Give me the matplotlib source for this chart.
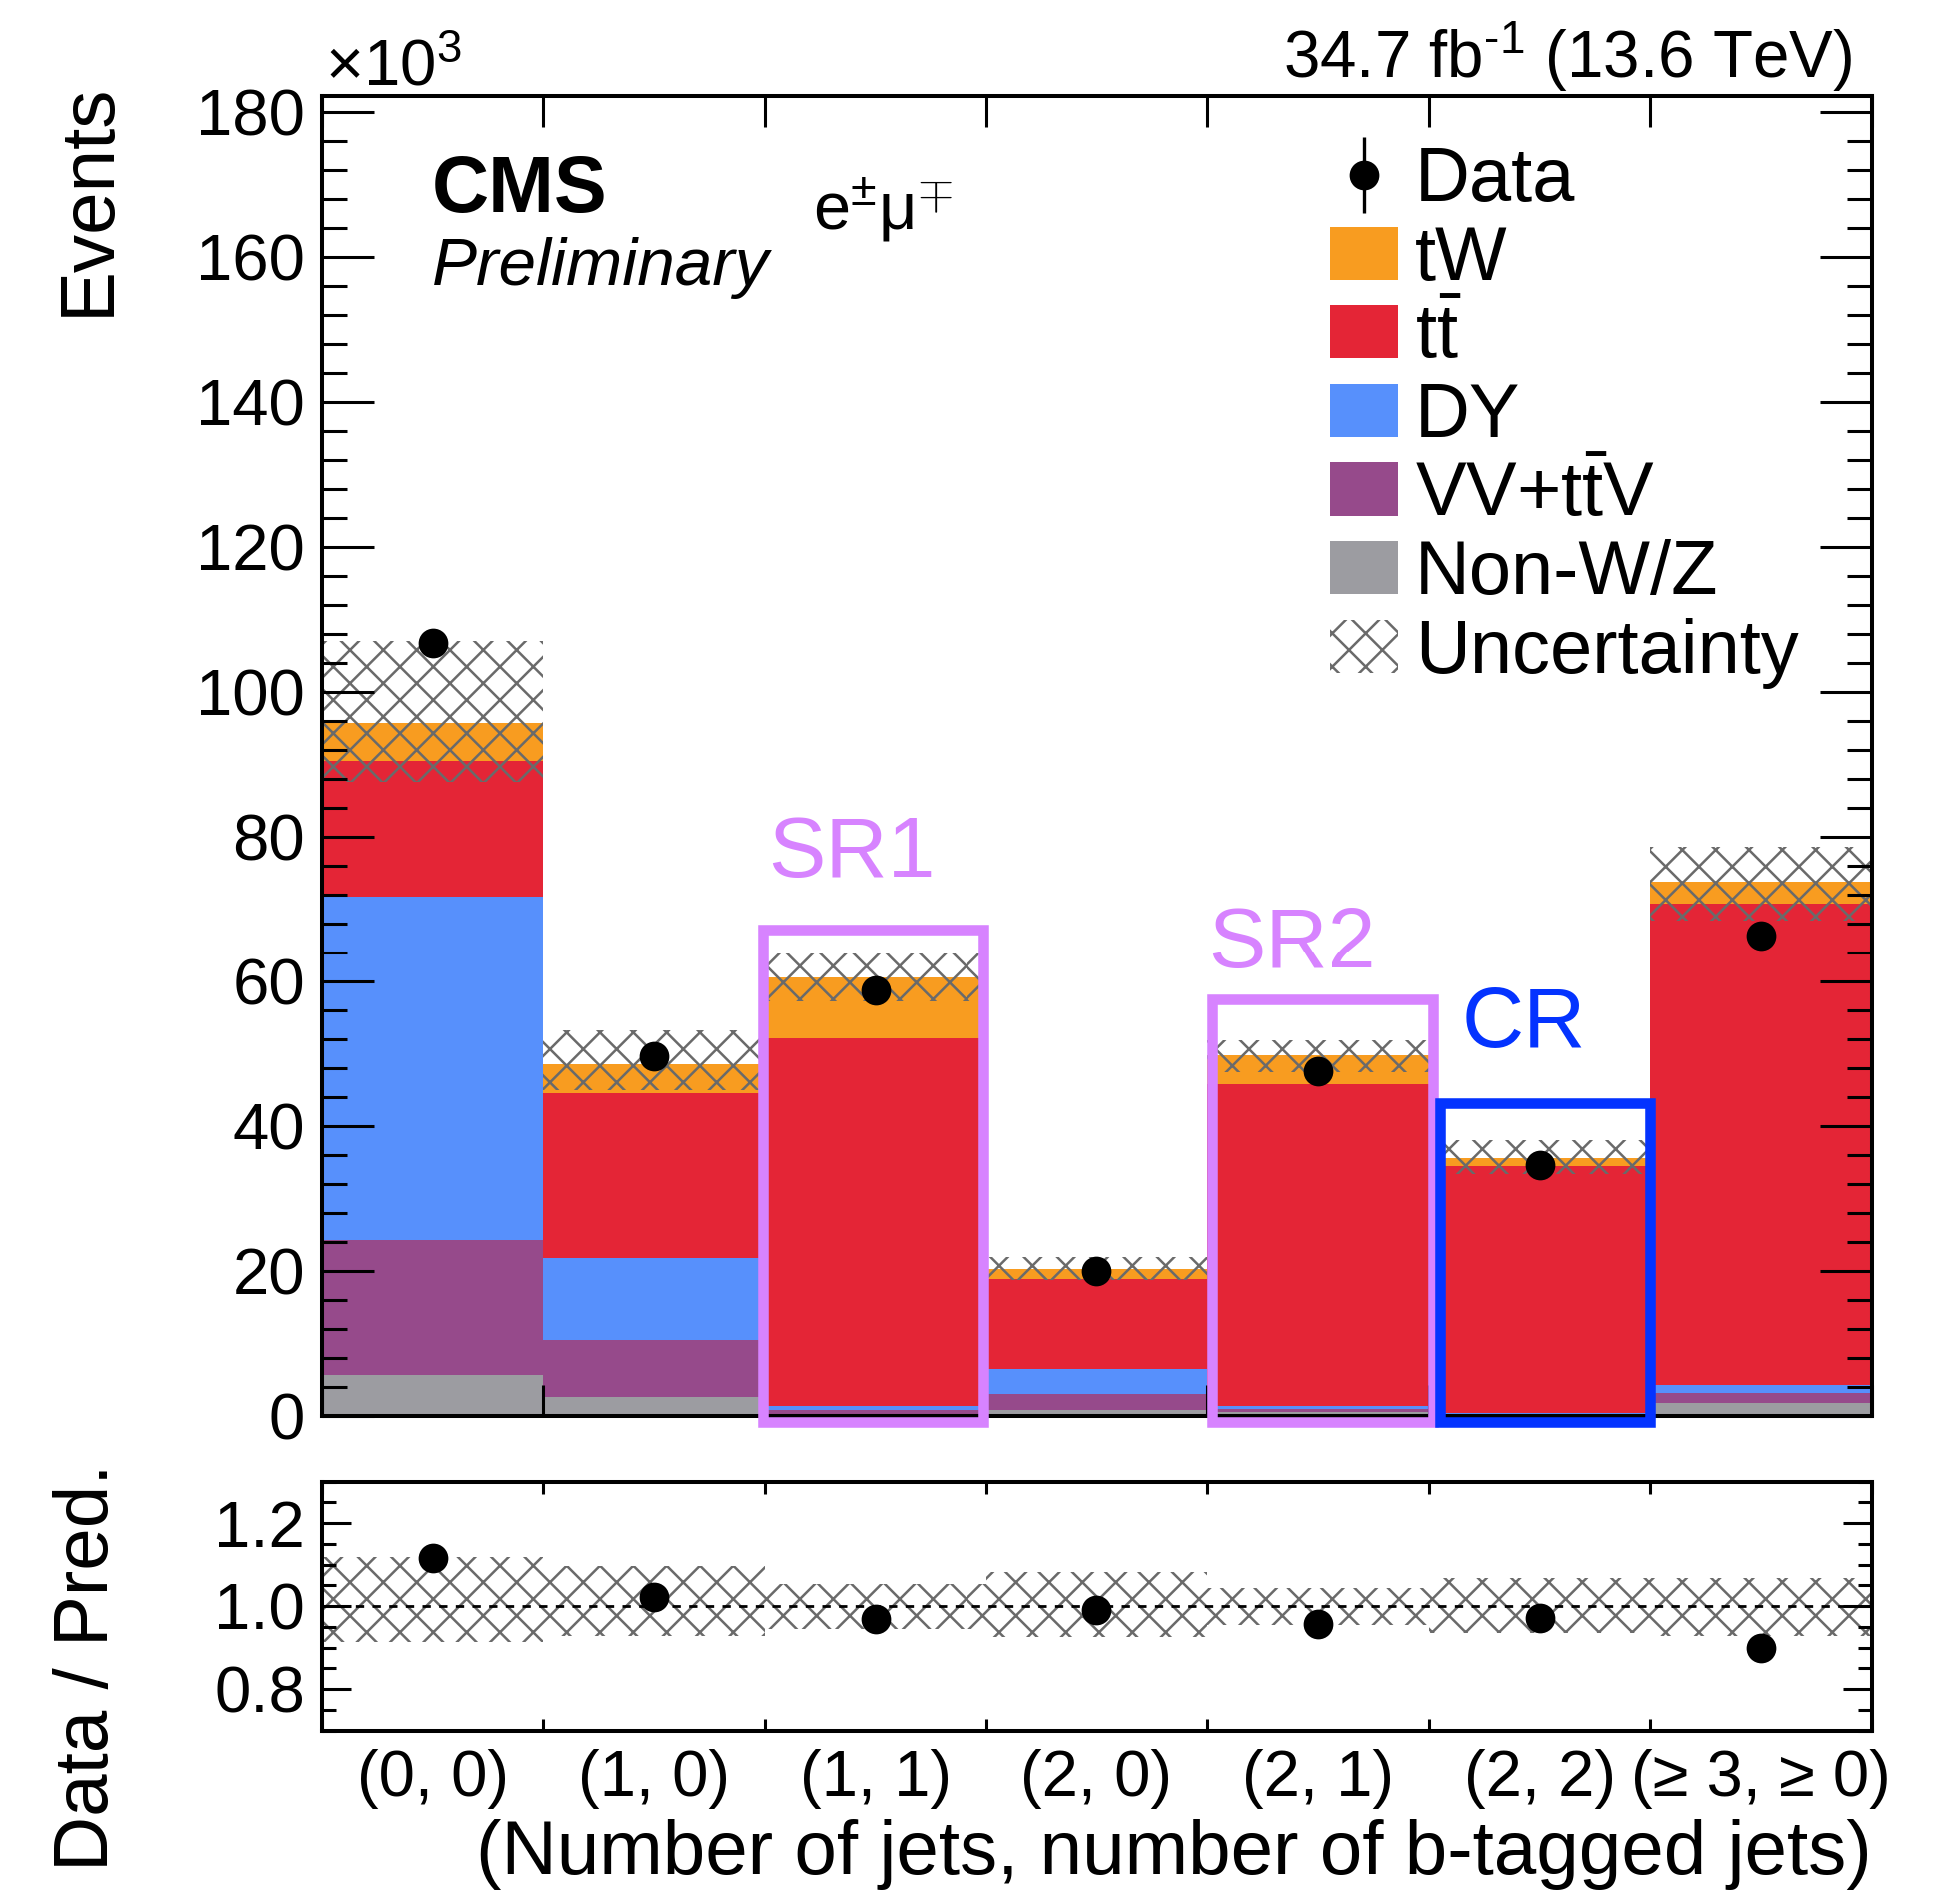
import numpy as np
import matplotlib
matplotlib.use('Agg')
import matplotlib.pyplot as plt
from matplotlib.patches import Patch, Rectangle
from matplotlib.ticker import MultipleLocator

plt.rcParams['font.family'] = ['Liberation Sans', 'DejaVu Sans']
plt.rcParams['mathtext.fontset'] = 'custom'
plt.rcParams['mathtext.rm'] = 'Liberation Sans'
plt.rcParams['mathtext.it'] = 'Liberation Sans:italic'
plt.rcParams['mathtext.bf'] = 'Liberation Sans:bold'
plt.rcParams['hatch.linewidth'] = 0.9

# (number of jets, number of b-tagged jets) categories
categories = ['(0, 0)', '(1, 0)', '(1, 1)', '(2, 0)', '(2, 1)', '(2, 2)', '(≥ 3, ≥ 0)']

# predicted yields per process, in units of 10^3 events
nonwz = np.array([5.6, 2.6, 0.3, 0.8, 0.45, 0.1, 1.7])
vv_ttv = np.array([18.7, 7.8, 0.45, 2.25, 0.47, 0.15, 1.5])
dy = np.array([47.4, 11.35, 0.53, 3.35, 0.42, 0.1, 1.0])
ttbar = np.array([18.7, 22.75, 50.84, 12.5, 44.36, 34.15, 66.6])
tw = np.array([5.35, 4.0, 8.4, 1.3, 4.0, 1.1, 2.9])

# observed events, 10^3
data = np.array([106.8, 49.6, 58.7, 20.0, 47.6, 34.6, 66.3])

# relative uncertainty of the prediction (up / down)
unc_up = np.array([0.118, 0.098, 0.054, 0.083, 0.043, 0.067, 0.067])
unc_down = np.array([0.086, 0.073, 0.054, 0.074, 0.045, 0.065, 0.073])

# signal / control region names
regions = ['SR1', 'SR2', 'CR']

col_tw = '#f89c20'
col_tt = '#e42536'
col_dy = '#5790fc'
col_vv = '#964a8b'
col_nonwz = '#9c9ca1'
col_unc = '#6a6a6a'
col_sr = '#d783ff'
col_cr = '#0433ff'

fig = plt.figure(figsize=(9.68, 9.525), dpi=200)
ax = fig.add_axes([0.16617, 0.25632, 0.80129, 0.69328])
rax = fig.add_axes([0.16617, 0.09097, 0.80129, 0.13071])

x = np.arange(len(categories))
stack = [(nonwz, col_nonwz, 'Non-W/Z'),
         (vv_ttv, col_vv, r'VV+$\mathrm{t\bar{t}}$V'),
         (dy, col_dy, 'DY'),
         (ttbar, col_tt, r'$\mathrm{t\bar{t}}$'),
         (tw, col_tw, 'tW')]

bottom = np.zeros(len(x))
handles = {}
for vals, col, lab in stack:
    handles[lab] = ax.bar(x, vals, width=1.0, bottom=bottom, align='edge',
                          color=col, linewidth=0, label=lab)
    bottom = bottom + vals
pred = bottom

ax.bar(x, pred * (unc_up + unc_down), width=1.0, bottom=pred * (1 - unc_down),
       align='edge', fill=False, hatch='xx', edgecolor=col_unc, linewidth=0)

stat = np.sqrt(data * 1e3) / 1e3
dat = ax.errorbar(x + 0.5, data, yerr=stat, fmt='o', color='k', ms=9.7,
                  elinewidth=1.2, capsize=0, zorder=5)

# region boxes
box_lw = 3.8
ax.add_patch(Rectangle((1.99, -0.9), 1.0, 68.1, fill=False, ec=col_sr, lw=box_lw, clip_on=False, zorder=6))
ax.add_patch(Rectangle((4.02, -0.9), 1.0, 58.4, fill=False, ec=col_sr, lw=box_lw, clip_on=False, zorder=6))
ax.add_patch(Rectangle((5.05, -0.9), 0.95, 44.1, fill=False, ec=col_cr, lw=box_lw, clip_on=False, zorder=6))
ax.text(2.393, 74.5, regions[0], color=col_sr, fontsize=31, ha='center', va='baseline')
ax.text(4.381, 61.9, regions[1], color=col_sr, fontsize=31, ha='center', va='baseline')
ax.text(5.43, 50.8, regions[2], color=col_cr, fontsize=31, ha='center', va='baseline')

ax.set_xlim(0, 7)
ax.set_ylim(0, 182.2)
ax.set_xticks(np.arange(8))
ax.tick_params(axis='x', which='major', direction='in', top=True, bottom=True,
               labelbottom=False, length=11, width=1.1)
ax.yaxis.set_major_locator(MultipleLocator(20))
ax.yaxis.set_minor_locator(MultipleLocator(4))
ax.tick_params(axis='y', which='major', direction='in', left=True, right=True,
               length=18.6, width=1.1, labelsize=23.5, pad=6)
ax.tick_params(axis='y', which='minor', direction='in', left=True, right=True,
               length=9, width=1.1)
for s in ax.spines.values():
    s.set_linewidth(1.45)

ax.set_ylabel('Events', loc='top', fontsize=27.5)
ax.yaxis.set_label_coords(-0.1268, 1.0102)

# legend
leg_handles = [dat, handles['tW'], handles[r'$\mathrm{t\bar{t}}$'], handles['DY'],
               handles[r'VV+$\mathrm{t\bar{t}}$V'], handles['Non-W/Z'],
               Patch(fill=False, hatch='xx', edgecolor=col_unc, linewidth=0)]
leg_labels = ['Data', 'tW', r'$\mathrm{t\bar{t}}$', 'DY', r'VV+$\mathrm{t\bar{t}}$V',
              'Non-W/Z', 'Uncertainty']
ax.legend(leg_handles, leg_labels, loc='upper left', bbox_to_anchor=(0.6506, 0.962),
          frameon=False, fontsize=27.3, handlelength=0.9, handleheight=0.7,
          handletextpad=0.22, labelspacing=0.1, borderpad=0, borderaxespad=0)

# labels above the frame
fig.text(0.2230, 0.8889, 'CMS', fontsize=28.5, fontweight='bold', va='baseline')
fig.text(0.2230, 0.8504, 'Preliminary', fontsize=24.3, style='italic', va='baseline')
fig.text(0.4199, 0.8793, r'$\mathrm{e^{\pm}μ^{\mp}}$', fontsize=24, va='baseline')
fig.text(0.9573, 0.9591, r'34.7 fb$^{\text{-}1}$ (13.6 TeV)', fontsize=23.6, ha='right', va='baseline')
fig.text(0.1679, 1 - 85 / 1905, r'$\times$10$^{3}$', fontsize=23.5, va='baseline')

# ratio panel
ratio = data / pred
ratio_err = stat / pred
rax.bar(x, unc_up + unc_down, width=1.0, bottom=1 - unc_down, align='edge',
        fill=False, hatch='xx', edgecolor=col_unc, linewidth=0)
rax.axhline(1.0, color='k', lw=1.0, ls=(0, (3, 3)))
rax.errorbar(x + 0.5, ratio, yerr=ratio_err, fmt='o', color='k', ms=9.7,
             elinewidth=1.2, capsize=0, zorder=5)
rax.set_xlim(0, 7)
rax.set_ylim(0.7, 1.3)
rax.set_xticks(np.arange(8))
rax.set_xticks(x + 0.5, minor=True)
rax.set_xticklabels(categories, minor=True)
rax.tick_params(axis='x', which='major', direction='in', top=True, bottom=True,
                labelbottom=False, length=4.3, width=1.1)
rax.tick_params(axis='x', which='minor', length=0, labelsize=23.5, pad=6.5)
rax.yaxis.set_major_locator(MultipleLocator(0.2))
rax.yaxis.set_minor_locator(MultipleLocator(0.05))
rax.yaxis.set_major_formatter(matplotlib.ticker.FormatStrFormatter('%.1f'))
rax.tick_params(axis='y', which='major', direction='in', left=True, right=True,
                length=10.4, width=1.1, labelsize=23.5, pad=6)
rax.tick_params(axis='y', which='minor', direction='in', left=True, right=True,
                length=5, width=1.1)
for s in rax.spines.values():
    s.set_linewidth(1.45)

rax.set_ylabel('Data / Pred.', fontsize=27.5)
rax.yaxis.set_label_coords(-0.1274, 0.2558)
rax.set_xlabel('(Number of jets, number of b-tagged jets)', loc='right', fontsize=27.5)
rax.xaxis.set_label_coords(1.0, -0.355)

fig.savefig('out.png', dpi=200)
